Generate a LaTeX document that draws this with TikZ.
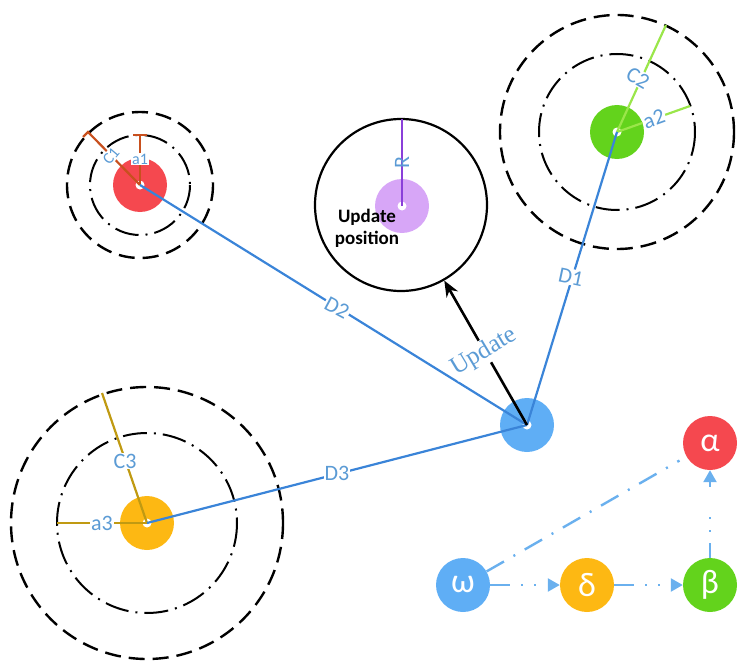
\documentclass[tikz,border=0pt]{standalone}
\usepackage{fontspec}
\setmainfont{Carlito}
\newfontfamily\seriffont{Liberation Serif}
\usetikzlibrary{arrows.meta}
\definecolor{cred}{HTML}{F5484F}
\definecolor{cgreen}{HTML}{63D31C}
\definecolor{corange}{HTML}{FDB813}
\definecolor{cblue}{HTML}{5FAEF5}
\definecolor{cpurple}{HTML}{D7A6F7}
\definecolor{lineblue}{HTML}{3A84D8}
\definecolor{lblue}{HTML}{5B9BD5}
\definecolor{legblue}{HTML}{6AB0EE}
\definecolor{cbrown}{HTML}{C8501E}
\definecolor{clgreen}{HTML}{9AE64A}
\definecolor{colive}{HTML}{C09A12}
\definecolor{cviolet}{HTML}{8A3FD9}
\tikzset{
  disc/.style={circle, minimum size=54pt, inner sep=0pt, draw=none},
  hole/.style={circle, fill=white, minimum size=9pt, inner sep=0pt},
  outerring/.style={draw=black, line width=2.4pt, dash pattern=on 16pt off 8pt},
  innerring/.style={draw=black, line width=2pt, dash pattern=on 24pt off 7pt on 2pt off 7pt},
  dline/.style={draw=lineblue, line width=2.2pt},
  lab/.style={text=lblue, fill=white, inner sep=1pt, font=\fontsize{22}{22}\selectfont},
  smalllab/.style={text=lblue, fill=white, inner sep=1pt, font=\fontsize{16}{16}\selectfont},
  leg/.style={circle, minimum size=54pt, inner sep=0pt, text=white, font=\fontsize{34}{34}\selectfont},
  legarrow/.style={draw=legblue, line width=2.4pt, dash pattern=on 20pt off 11pt on 2pt off 11pt on 2pt off 30pt, -{Triangle[length=12pt,width=13pt,fill=legblue]}},
}
\begin{document}
\begin{tikzpicture}[x=1pt, y=-1pt]
\useasboundingbox (0,0) rectangle (753,669);
% discs
\node[disc, fill=cred] (n1) at (140,185) {};
\node[disc, fill=cgreen] (n2) at (617,132) {};
\node[disc, fill=corange] (n3) at (147,523) {};
\node[disc, fill=cblue] (hub) at (527,425) {};
\node[disc, fill=cpurple] (np) at (402,206) {};
\node[hole] (h1) at (n1.center) {};
\node[hole] (h2) at (n2.center) {};
\node[hole] (h3) at (n3.center) {};
\node[hole] (hh) at (hub.center) {};
\node[hole] (hp) at (np.center) {};
% rings
\draw[outerring] (n1.center) circle[radius=73];
\draw[innerring] (n1.center) circle[radius=50];
\draw[outerring] (n2.center) circle[radius=117];
\draw[innerring] (n2.center) circle[radius=78];
\draw[outerring] (n3.center) circle[radius=136];
\draw[innerring] (n3.center) circle[radius=90];
\node[circle, draw=black, line width=2.2pt, minimum size=172pt, inner sep=0pt] (ring) at (401,205) {};
% radii
\coordinate (c1end) at (88,132);
\coordinate (c1tick) at (83,137);
\draw[cbrown, line width=2.2pt] (n1.center) -- (c1end) -- (c1tick);
\coordinate (a1end) at (140,135);
\coordinate (a1l) at (133,135);
\coordinate (a1r) at (147,135);
\draw[cbrown, line width=2.2pt] (n1.center) -- (a1end);
\draw[cbrown, line width=2.2pt] (a1l) -- (a1r);
\coordinate (c2end) at (666,25);
\coordinate (a2end) at (690,106);
\draw[clgreen, line width=2.2pt] (n2.center) -- (c2end);
\draw[clgreen, line width=2.2pt] (n2.center) -- (a2end);
\coordinate (c3end) at (102,393);
\coordinate (a3end) at (57,523);
\draw[colive, line width=2.2pt] (n3.center) -- (c3end);
\draw[colive, line width=2.2pt] (n3.center) -- (a3end);
\coordinate (rend) at (402,119);
\draw[cviolet, line width=2.2pt] (np.center) -- (rend);
% distance lines
\draw[dline] (n1.center) -- (hub.center);
\draw[dline] (n2.center) -- (hub.center);
\draw[dline] (n3.center) -- (hub.center);
\draw[black, line width=2.6pt, -{Stealth[length=16pt,width=13pt]}] (hub.center) -- (ring);
% labels
\node[smalllab, rotate=50] (lc1) at (111,156) {C1};
\node[smalllab] (la1) at (140,159) {a1};
\node[lab, rotate=-30] (lc2) at (638,78) {C2};
\node[lab, rotate=20] (la2) at (654,119) {a2};
\node[lab] (lc3) at (125,461) {C3};
\node[lab] (la3) at (102,523) {a3};
\node[lab, rotate=90, fill=none] (lr) at (402,163) {R};
\node[lab, rotate=-28] (ld2) at (337,308) {D2};
\node[lab, rotate=-12] (ld1) at (571,277) {D1};
\node[lab] (ld3) at (337,473) {D3};
\node[text=lblue, fill=white, inner sep=1pt, rotate=31, font=\seriffont\fontsize{25}{25}\selectfont] (lupd) at (484,352) {Update};
\node[align=center, font=\bfseries\fontsize{19}{22}\selectfont, text=black] (upos) at (367,228) {Update\\position};
% legend
\node[leg, fill=cred] (alpha) at (710,443) {α};
\node[leg, fill=cblue] (omega) at (463,585) {ω};
\node[leg, fill=corange] (delta) at (587,585) {δ};
\node[leg, fill=cgreen] (beta) at (710,585) {β};
\draw[legarrow] (omega) -- (delta);
\draw[legarrow] (delta) -- (beta);
\draw[legarrow, dash pattern=on 15pt off 11pt on 2pt off 11pt on 2pt off 30pt] (beta) -- (alpha);
\draw[draw=legblue, line width=2.4pt, dash pattern=on 20pt off 11pt on 2pt off 11pt, shorten >=8pt] (omega) -- (alpha);
\end{tikzpicture}
\end{document}
